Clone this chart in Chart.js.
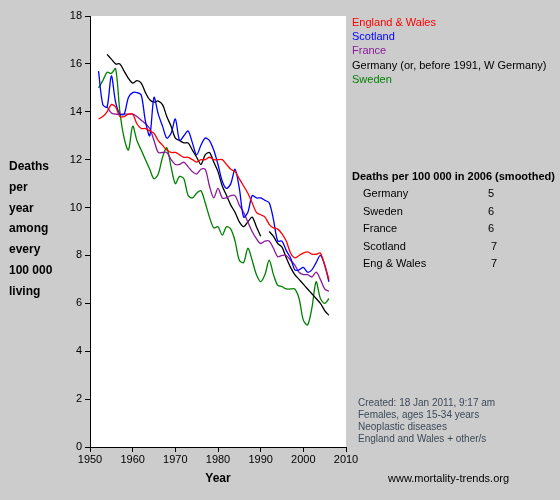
<!DOCTYPE html>
<html><head><meta charset="utf-8">
<script src="https://cdn.jsdelivr.net/npm/chart.js@4"></script>
<style>html,body{margin:0;padding:0;background:#cccccc}#w{width:560px;height:500px}</style>
</head><body><div id="w"><canvas id="c" width="560" height="500"></canvas></div>
<script>
const years = Array.from({length:55},(_, i)=>1952+i);
const englandWales = [13.7,13.8,14.0,14.3,14.2,13.8,13.8,13.9,13.9,13.5,13.3,13.3,13.2,13.1,12.8,12.6,12.4,12.3,12.3,12.2,12.1,12.1,12.0,11.9,12.0,12.0,12.1,12.0,12.0,12.0,11.8,11.6,11.5,11.2,10.9,10.6,10.2,9.8,9.7,9.6,9.3,9.15,9.1,8.9,8.6,8.1,7.9,8.0,8.1,8.15,8.05,8.05,8.1,7.6,7.0];
const scotland = [15.7,14.3,14.2,15.5,14.4,13.9,13.9,14.6,14.8,14.8,14.7,13.6,13.0,14.6,13.9,13.4,12.9,13.1,13.7,12.8,13.0,13.2,12.7,12.2,12.6,12.9,12.8,12.4,11.8,11.1,10.8,11.0,11.6,10.8,9.6,9.8,10.5,10.4,10.4,10.3,10.2,9.5,8.6,8.6,8.2,7.9,7.4,7.4,7.5,7.3,7.4,7.7,8.0,7.6,6.9];
const france = [null,null,14.2,13.95,13.9,13.9,13.9,13.9,13.9,13.8,13.65,13.5,13.3,12.8,12.3,12.3,12.3,12.0,11.8,11.8,11.9,11.7,11.5,11.4,11.6,11.6,10.9,10.4,10.8,10.4,10.4,10.5,10.5,10.1,9.8,9.4,9.0,8.7,8.5,8.6,8.6,8.3,7.95,8.0,8.0,7.8,7.6,7.3,7.2,7.2,7.1,7.3,7.0,6.6,6.5];
const germany = [null,null,16.4,16.2,16.0,16.0,15.7,15.4,15.2,15.3,15.2,14.8,14.5,14.4,14.45,14.3,13.8,13.4,12.9,12.8,12.7,12.7,12.4,12.1,11.8,12.2,12.3,11.9,11.5,10.9,10.5,10.1,9.8,9.4,9.2,9.4,9.6,9.2,8.8,null,9.0,8.8,8.5,8.35,7.9,7.5,7.2,7.0,6.8,6.6,6.4,6.2,6.0,5.7,5.5];
const sweden = [15.0,15.3,15.65,15.6,15.8,14.0,12.9,12.4,13.4,12.8,12.4,12.0,11.6,11.2,11.4,12.1,12.5,11.7,11.0,11.3,11.2,10.5,10.4,10.6,10.7,10.2,9.6,9.15,9.2,8.85,9.2,9.1,8.6,7.8,7.7,8.3,7.8,7.2,6.9,7.2,7.8,7.2,6.75,6.7,6.6,6.6,6.6,6.2,5.3,5.1,5.8,6.9,6.2,6.0,6.2];
const seriesNames = ["England & Wales","Scotland","France","Germany (or, before 1991, W Germany)","Sweden"];
const seriesColors = ["#ff0000","#0000ff","#8b1a9b","#000000","#008000"];
const tableNames = ["Germany","Sweden","France","Scotland","Eng & Wales"];
const tableValues = ["5","6","6","7","7"];
const xTicks = [1950,1960,1970,1980,1990,2000,2010];
const yTicks = [0,2,4,6,8,10,12,14,16,18];

const allSeries=[englandWales,scotland,france,germany,sweden];
const F='"Liberation Sans", Arial, sans-serif';
const deco={id:'deco',beforeDraw(ch){const {ctx,chartArea:a}=ch;ctx.save();ctx.fillStyle='#fff';ctx.fillRect(a.left,a.top,a.right-a.left,a.bottom-a.top);ctx.restore();},
afterDraw(ch){const ctx=ch.ctx;ctx.save();ctx.textBaseline='alphabetic';
ctx.font='11px '+F;ctx.textAlign='left';
seriesNames.forEach((n,i)=>{ctx.fillStyle=seriesColors[i];ctx.fillText(n,352,26+i*14.2);});
ctx.fillStyle='#000';ctx.font='bold 11px '+F;ctx.fillText('Deaths per 100 000 in 2006 (smoothed)',352,180);
ctx.font='11px '+F;
tableNames.forEach((n,i)=>{ctx.fillText(n,363,197+i*17.6);ctx.fillText(tableValues[i],i<3?488:491,197+i*17.6);});
ctx.font='bold 12px '+F;ctx.textAlign='left';
['Deaths','per','year','among','every','100 000','living'].forEach((t,i)=>ctx.fillText(t,9,170+i*20.8));
ctx.textAlign='center';ctx.fillText('Year',218,482);
ctx.font='10px '+F;ctx.textAlign='left';ctx.fillStyle='#3c4a5a';
['Created: 18 Jan 2011, 9:17 am','Females, ages 15-34 years','Neoplastic diseases','England and Wales + other/s'].forEach((t,i)=>ctx.fillText(t,358,406+i*12));
ctx.fillStyle='#000';ctx.font='11px '+F;ctx.fillText('www.mortality-trends.org',388,482);
ctx.restore();}};
new Chart(document.getElementById('c'),{type:'line',
data:{datasets:allSeries.map((s,i)=>({data:years.map((y,j)=>({x:y,y:s[j]})),borderColor:seriesColors[i],borderWidth:1.3,pointRadius:0,tension:0.3,spanGaps:false,fill:false}))},
options:{responsive:false,animation:false,devicePixelRatio:1,
layout:{padding:{left:0,right:214,top:16,bottom:0}},
plugins:{legend:{display:false},tooltip:{enabled:false}},
scales:{
x:{type:'linear',min:1950,max:2010,afterBuildTicks(s){s.ticks=xTicks.map(v=>({value:v}));},afterFit(s){s.height=53;},
 grid:{drawOnChartArea:false,color:'#000',tickLength:5,tickColor:'#000'},border:{color:'#000',width:1},
 ticks:{color:'#000',font:{family:F,size:11},padding:1,maxRotation:0,callback:v=>String(v)}},
y:{min:0,max:18,afterBuildTicks(s){s.ticks=yTicks.map(v=>({value:v}));},afterFit(s){s.width=90;},
 grid:{drawOnChartArea:false,color:'#000',tickLength:5,tickColor:'#000'},border:{color:'#000',width:1},
 ticks:{color:'#000',font:{family:F,size:11},padding:3,callback:v=>String(v)}}}},
plugins:[deco]});
</script></body></html>
